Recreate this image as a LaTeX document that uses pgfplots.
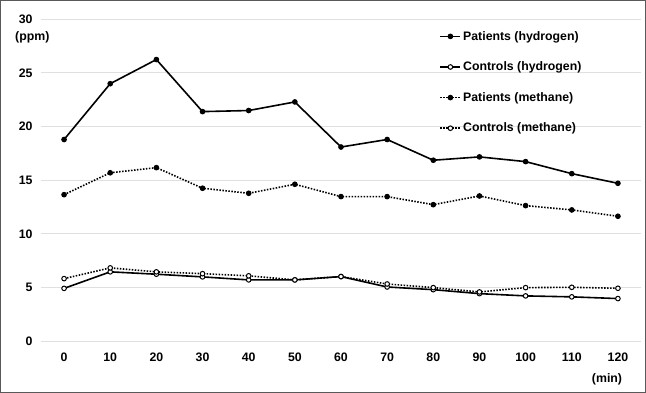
\documentclass[border=0pt]{standalone}
\usepackage{pgfplots}
\pgfplotsset{compat=1.18}
\usepackage{pgfplotstable}
\usepackage{fontspec}
\setmainfont{Liberation Sans}
\newcommand{\fnt}{\fontsize{12.3}{14}\selectfont\bfseries}
\pgfplotstableread{
x ph ch pm cm
0 18.8 4.93 13.66 5.84
10 24.0 6.47 15.70 6.84
20 26.25 6.25 16.18 6.47
30 21.4 6.00 14.26 6.30
40 21.5 5.72 13.79 6.10
50 22.3 5.72 14.63 5.72
60 18.1 6.03 13.48 6.03
70 18.8 5.06 13.48 5.34
80 16.87 4.81 12.73 5.00
90 17.18 4.44 13.54 4.60
100 16.74 4.23 12.64 5.00
110 15.62 4.14 12.24 5.03
120 14.72 3.98 11.65 4.94
}\data
\begin{document}
\begin{tikzpicture}
\useasboundingbox (0,0) rectangle (646pt,393pt);
\draw[black!65, line width=1pt] (0.5pt,0.5pt) rectangle (645.5pt,392.5pt);
\begin{axis}[
  scale only axis, width=600pt, height=322pt,
  at={(41pt,51.7pt)}, anchor=south west,
  xmin=-5, xmax=125, ymin=0, ymax=30,
  xtick={0,10,...,120}, ytick={0,5,...,30},
  ymajorgrids, grid style={black!12, line width=1pt},
  axis line style={draw=none}, major tick length=0pt,
  tick label style={font=\fnt},
  /pgf/number format/assume math mode=true,
  xticklabel style={yshift=-8.5pt},
  yticklabel style={xshift=-5pt},
  legend style={draw=none, fill=none, at={(0.664,0.97)}, anchor=north west,
    font=\fnt, row sep=16.2pt, inner sep=0pt},
  legend cell align=left,
  legend image code/.code={\draw[mark repeat=2,mark phase=2] plot coordinates {(0pt,0pt) (10pt,0pt) (20pt,0pt)};},
  every axis plot/.append style={line width=1.6pt, mark=*, mark size=2.3pt},
]
\addplot[black, mark options={solid, fill=black, line width=1pt}] table[x=x, y=ph] {\data};
\addlegendentry{Patients (hydrogen)}
\addplot[black, mark options={solid, fill=white, line width=1pt}] table[x=x, y=ch] {\data};
\addlegendentry{Controls (hydrogen)}
\addplot[black, dash pattern=on 1.5pt off 1.5pt, mark options={solid, fill=black, line width=1pt}] table[x=x, y=pm] {\data};
\addlegendentry{Patients (methane)}
\addplot[black, dash pattern=on 1.5pt off 1.5pt, mark options={solid, fill=white, line width=1pt}] table[x=x, y=cm] {\data};
\addlegendentry{Controls (methane)}
\end{axis}
\node[anchor=west, font=\fnt, inner sep=0pt] at (15pt,356pt) {(ppm)};
\node[anchor=center, font=\fnt, inner sep=0pt] at (607pt,14pt) {(min)};
\end{tikzpicture}
\end{document}
